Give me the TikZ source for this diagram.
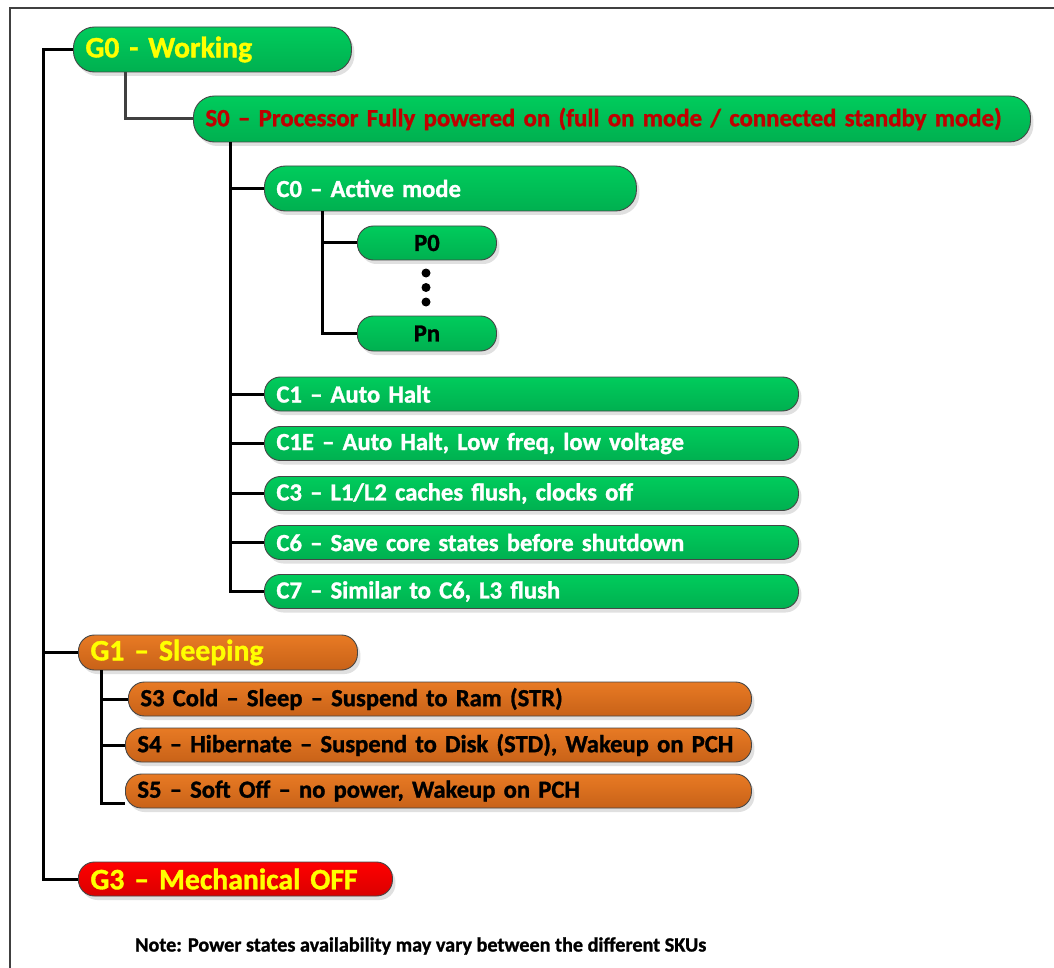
\documentclass[tikz,border=0pt]{standalone}
\usepackage{fontspec}
\setmainfont{Carlito}[BoldFeatures={FakeBold=1.2}]
\usetikzlibrary{shadows}
\definecolor{stgreen}{RGB}{0,204,92}
\definecolor{stgreendk}{RGB}{0,176,80}
\definecolor{storange}{RGB}{232,122,36}
\definecolor{storangedk}{RGB}{200,98,24}
\definecolor{stred}{RGB}{255,0,0}
\definecolor{streddk}{RGB}{218,0,0}
\definecolor{styellow}{RGB}{255,255,0}
\definecolor{stdarkred}{RGB}{192,0,0}
\definecolor{stedge}{RGB}{70,70,70}
\tikzset{>=stealth,
  pill/.style={draw=stedge, line width=0.9pt, rounded corners=16pt, anchor=west,
    inner xsep=12pt, inner ysep=0pt, align=left, font=\bfseries,
    drop shadow={shadow xshift=3pt, shadow yshift=-4pt, fill=black!12, opacity=1}},
  greenpill/.style={pill, top color=stgreen, bottom color=stgreendk},
  orangepill/.style={pill, top color=storange, bottom color=storangedk},
  redpill/.style={pill, top color=stred, bottom color=streddk},
  branch/.style={line width=3pt, black},
}
\newcommand\bigtxt{\bfseries\fontsize{29.7}{33}\selectfont}
\newcommand\stxt{\bfseries\fontsize{24.6}{28}\selectfont}

\begin{document}
\begin{tikzpicture}[x=1pt,y=-1pt]
\useasboundingbox (0,0) rectangle (1054,968);
\draw[line width=1.2pt, black!75] (1054,8) -- (10,8) -- (10,968);

\node[greenpill, rounded corners=21pt, minimum height=45pt, text width=254pt,
  text=styellow, font=\bigtxt] (G0) at (73,49.5) {G0 - Working};
\node[greenpill, rounded corners=21pt, minimum height=46pt, text width=813pt,
  text=stdarkred, font=\bfseries\fontsize{24.8}{28}\selectfont] (S0) at (193,119)
  {S0 – Processor Fully powered on (full on mode / connected standby mode)};
\node[greenpill, rounded corners=21pt, minimum height=45pt, text width=348pt,
  text=white, font=\stxt] (C0) at (264,188.5) {C0 – Active mode};
\node[greenpill, minimum height=34pt, text width=115pt, align=center,
  font=\stxt] (P0) at (357,243) {P0};
\node[greenpill, minimum height=35pt, text width=115pt, align=center,
  font=\stxt] (Pn) at (357,333.5) {Pn};
\foreach \y in {273,287.5,302}
  \fill (426,\y) circle (4.5pt);

\foreach \name/\y/\txt in {C1/394/C1 – Auto Halt,
    C1E/443.5/{C1E – Auto Halt, Low freq, low voltage},
    C3/493.5/{C3 – L1/L2 caches flush, clocks off},
    C6/542.5/C6 – Save core states before shutdown,
    C7/591.5/{C7 – Similar to C6, L3 flush}}
  \node[greenpill, minimum height=34pt, text width=510pt, text=white,
    font=\stxt] (\name) at (264,\y) {\txt};

\node[orangepill, minimum height=35pt, text width=255pt, text=styellow,
  font=\bigtxt] (G1) at (78,652.5) {G1 – Sleeping};
\node[orangepill, minimum height=34pt, text width=599pt,
  font=\stxt] (S3) at (128,699) {S3 Cold – Sleep – Suspend to Ram (STR)};
\node[orangepill, minimum height=34pt, text width=602pt,
  font=\stxt] (S4) at (125,745) {S4 – Hibernate – Suspend to Disk (STD), Wakeup on PCH};
\node[orangepill, minimum height=34pt, text width=602pt,
  font=\stxt] (S5) at (125,791) {S5 – Soft Off – no power, Wakeup on PCH};

\node[redpill, minimum height=34pt, text width=290pt, text=styellow,
  font=\bigtxt] (G3) at (78,879) {G3 – Mechanical OFF};

\node[anchor=west, inner sep=0pt, font=\bfseries\fontsize{20.2}{24}\selectfont] (note) at (135,946)
  {Note: Power states availability may vary between the different SKUs};

\coordinate (rail) at (43,0);
\coordinate (s0rail) at (125,0);
\coordinate (c0rail) at (230,0);
\coordinate (prail) at (322,0);
\coordinate (g1rail) at (101,0);

\draw[branch] (G0.west) -- (G0.west -| rail) |- (G3.west);
\draw[branch] (G1.west) -- (G1.west -| rail);
\draw[branch, black!75] (G0.south -| s0rail) |- (S0.west);
\draw[branch] (S0.south -| c0rail) |- (C7.west);
\foreach \n in {C0,C1,C1E,C3,C6}
  \draw[branch] (\n.west -| c0rail) -- (\n.west);
\draw[branch] (C0.south -| prail) |- (Pn.west);
\draw[branch] (P0.west -| prail) -- (P0.west);
\draw[branch] (G1.south -| g1rail) |- ([yshift=-12pt]S5.west);
\draw[branch] (S3.west -| g1rail) -- (S3.west);
\draw[branch] (S4.west -| g1rail) -- (S4.west);
\end{tikzpicture}
\end{document}
